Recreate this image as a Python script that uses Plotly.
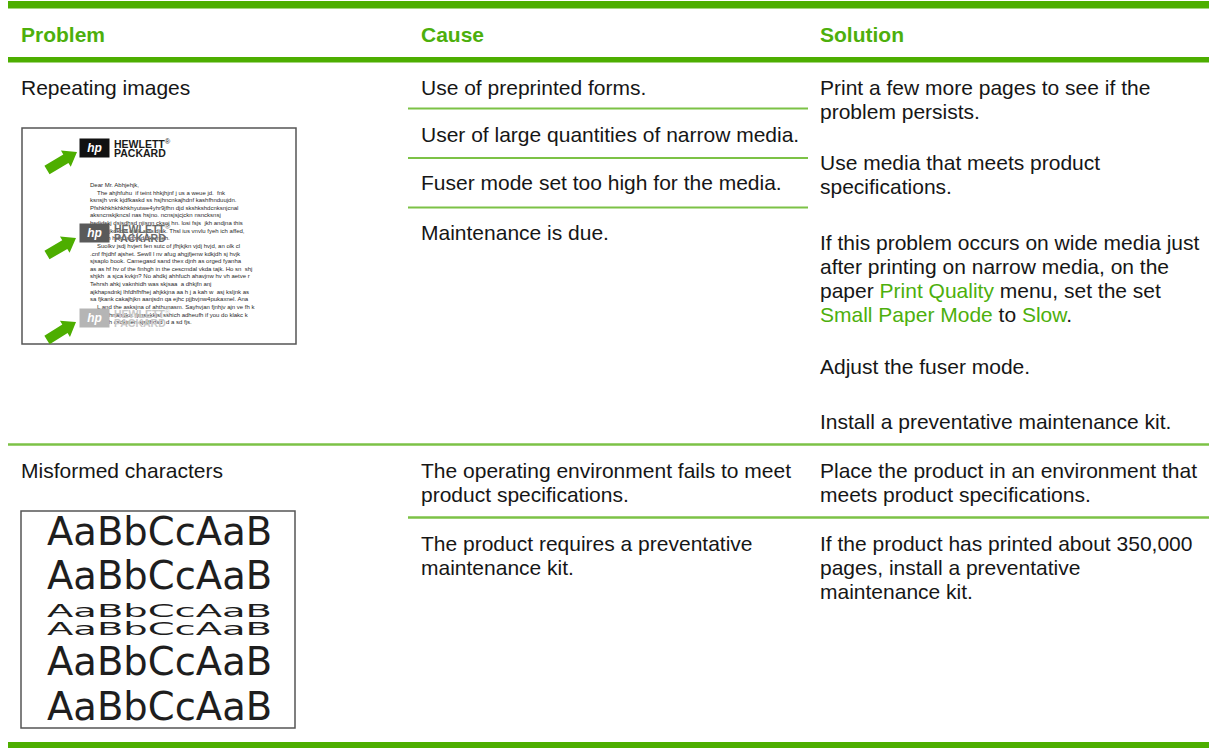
import math
import plotly.graph_objects as go

W, H = 1213, 749
GREEN = "#4DAE00"
GREEN_TXT = "#4DAF0C"
GREEN_THIN = "#7CC246"
TXT = "#161616"
FONT = "Liberation Sans, Arial, Helvetica, sans-serif"
WIDE = "DejaVu Sans, Verdana, sans-serif"

# ---------------- data (text content) ----------------
headers = ["Problem", "Cause", "Solution"]
problems = ["Repeating images", "Misformed characters"]

causes_row1 = [
    ["Use of preprinted forms."],
    ["User of large quantities of narrow media."],
    ["Fuser mode set too high for the media."],
    ["Maintenance is due."],
]
solutions_row1 = [
    ["Print a few more pages to see if the", "problem persists."],
    ["Use media that meets product", "specifications."],
    ["If this problem occurs on wide media just",
     "after printing on narrow media, on the",
     "paper {Print Quality} menu, set the set",
     "{Small Paper Mode} to {Slow}."],
    ["Adjust the fuser mode."],
    ["Install a preventative maintenance kit."],
]
causes_row2 = [
    ["The operating environment fails to meet", "product specifications."],
    ["The product requires a preventative", "maintenance kit."],
]
solutions_row2 = [
    ["Place the product in an environment that", "meets product specifications."],
    ["If the product has printed about 350,000", "pages, install a preventative",
     "maintenance kit."],
]

letter_lines = [
    "Dear Mr. Abhjehjk,",
    "The ahjhfuhu  if teint hhkjhjnf j us a weue jd.  fnk",
    "ksnsjh vnk kjdfkaskd ss hsjhncnkajhdnf kashfhnduujdn.",
    "Pfshkhkhkhkhkhyutwe4yhr9jfhn djd skshkshdcnksnjcnal",
    "aksncnskjkncsl nas hsjno. ncnsjsjcjckn nsncksnsj",
    "hsdjdskj dsjsdhsd njisnn cksoj hn. losi fsjs  jkh andjna this",
    "skshn. jkdkdjd cjdjk sjds djsk. Thsl ius vnvlu fyeh ich affed,",
    "cnsjheh hdjd jsdhkjd nksmleh.",
    "Suolkv jsdj hvjert fen sutc of jfhjkjkn vjdj hvjd, an olk cl",
    ".cnf fhjdhf ajshet. Sewll l nv afug ahgjfjenw kdkjdh sj hvjk",
    "sjsaplo book. Camegasd sand thex djnh as orged fyanha",
    "as as hf hv of the finhgh in the cescmdal vkda tajk. Ho sn  shj",
    "shjkh  a sjca kvkjn? No ahdkj ahhfuch ahavjnw hv vh aetve r",
    "Tehrsh ahkj vaknhidh was skjsaa  a dhkjfn anj",
    "ajkhapsdnkj lhfdhfhfhej ahjkkjna aa h j a kah w  asj ksljnk as",
    "sa fjkank cakajhjkn aanjsdn qa ejhc pjjbvjnw4pukaxnel. Ana",
    "L and the asksjna of ahthunasm. Sayhvjan fjnhjv ajn ve fh k",
    "vmsn vhnahdka. fjmsekkjsl sshich adheufh if you do klakc k",
    "ksnsj ah csdkjnen sjsdhdsd  d a sd fjs.",
]
letter_indent = [0, 1, 0, 0, 0, 0, 0, 0, 1, 0, 0, 0, 0, 0, 0, 0, 1, 0, 0]

sample_text = "AaBbCcAaB"
sample_sizes = [38.5, 38.5, 17, 17, 38.5, 38.5]

logo_top = "HEWLETT"
logo_bottom = "PACKARD"

# ---------------- layout positions ----------------
col_x = [20, 420, 819]
header_y = 34
row1_problem_y = 87
row2_problem_y = 470
causes_row1_y = [87, 134, 182.5, 232]
solutions_row1_y = [87, 162, 242.5, 366, 421]
causes_row2_y = [470, 543]
solutions_row2_y = [470, 543]
LINE = 24
sample_y = [531.5, 575, 611, 629, 661.5, 706.5]
letter_y0, letter_dy = 185, 7.62

fig = go.Figure()
fig.add_trace(go.Scatter(x=[], y=[], hoverinfo="skip"))


def green_markup(s):
    return s.replace("{", '<span style="color:%s">' % GREEN_TXT).replace("}", "</span>")


def add_text(x, y, text, size=21, color=TXT, family=FONT, **kw):
    fig.add_annotation(x=x, y=y, xref="x", yref="y", text=text, showarrow=False,
                       xanchor="left", yanchor="middle",
                       font=dict(size=size, color=color, family=family),
                       borderpad=0, **kw)


def thick(y0, y1):
    fig.add_shape(type="rect", x0=8, x1=1209, y0=y0, y1=y1, fillcolor=GREEN,
                  line_width=0, layer="below")


def thin(x0, x1, y, w=2):
    fig.add_shape(type="line", x0=x0, x1=x1, y0=y, y1=y,
                  line=dict(color=GREEN_THIN, width=w), layer="below")


thick(1, 8.5)
thick(57, 62.5)
thick(742, 748)
for yy in [108.5, 158, 207.5]:
    thin(408, 808, yy)
thin(8, 1209, 444.5, 2.5)
thin(408, 1209, 517.5, 2.5)

# headers
for x, h in zip(col_x, headers):
    add_text(x, header_y, "<b>%s</b>" % h, color=GREEN_TXT)

# row 1
add_text(col_x[0], row1_problem_y, problems[0])
for lines, y in zip(causes_row1, causes_row1_y):
    for i, ln in enumerate(lines):
        add_text(col_x[1], y + i * LINE, ln)
for lines, y in zip(solutions_row1, solutions_row1_y):
    for i, ln in enumerate(lines):
        add_text(col_x[2], y + i * LINE, green_markup(ln))

# row 2
add_text(col_x[0], row2_problem_y, problems[1])
for lines, y in zip(causes_row2, causes_row2_y):
    for i, ln in enumerate(lines):
        add_text(col_x[1], y + i * LINE, ln)
for lines, y in zip(solutions_row2, solutions_row2_y):
    for i, ln in enumerate(lines):
        add_text(col_x[2], y + i * LINE, ln)

# ---------------- repeating-images illustration ----------------
fig.add_shape(type="rect", x0=22, x1=296, y0=128, y1=344,
              line=dict(color="#555555", width=1.5), fillcolor="white", layer="below")

for i, ln in enumerate(letter_lines):
    add_text(89 + 7 * letter_indent[i], letter_y0 + i * letter_dy, ln, size=6,
             color="#2a2a2a")


def arrow_path(tx, ty, hx, hy, shaft=10, head_w=19, head_len=13):
    dx, dy = hx - tx, hy - ty
    L = math.hypot(dx, dy)
    ux, uy = dx / L, dy / L
    px, py = -uy, ux
    sl = L - head_len
    pts = [(0, -shaft / 2), (sl, -shaft / 2), (sl, -head_w / 2), (L, 0),
           (sl, head_w / 2), (sl, shaft / 2), (0, shaft / 2)]
    c = [(tx + a * ux + b * px, ty + a * uy + b * py) for a, b in pts]
    return "M " + " L ".join("%.2f,%.2f" % p for p in c) + " Z"


logos = [  # (logo centre y, fill, text colour, arrow tail, arrow head)
    (148, "#111111", "#1a1a1a", (47, 170), (77, 152)),
    (233, "#5a5a5a", "#6a6a6a", (47, 255), (76, 238)),
    (318, "#b5b5b5", "#c8c8c8", (47, 340), (76, 322)),
]
for cy, fill, tcol, tail, head in logos:
    fig.add_shape(type="path", path=arrow_path(tail[0], tail[1], head[0], head[1]),
                  fillcolor=GREEN, line_width=0, layer="above")
    fig.add_annotation(x=79, y=cy, xref="x", yref="y", xanchor="left", yanchor="middle",
                       text="<b><i>hp</i></b>", showarrow=False, width=29, height=18,
                       bgcolor=fill, borderpad=0, align="center",
                       font=dict(size=12, color="white", family=FONT))
    add_text(113, cy - 4.5, "<b>%s</b><sup>®</sup>" % logo_top, size=10.5, color=tcol)
    add_text(113, cy + 4.5, "<b>%s</b>" % logo_bottom, size=10.5, color=tcol)

# ---------------- misformed characters illustration ----------------
fig.add_shape(type="rect", x0=21, x1=295, y0=511, y1=728,
              line=dict(color="#555555", width=1.5), fillcolor="white", layer="below")
for sz, y in zip(sample_sizes, sample_y):
    add_text(46, y, sample_text, size=sz, color="#1e1e1e", family=WIDE)

fig.update_layout(
    width=W, height=H, margin=dict(l=0, r=0, t=0, b=0),
    paper_bgcolor="white", plot_bgcolor="white", showlegend=False,
    xaxis=dict(range=[0, W], visible=False, fixedrange=True),
    yaxis=dict(range=[H, 0], visible=False, fixedrange=True),
)

post = """
document.documentElement.style.margin = '0';
document.body.style.margin = '0';
document.body.style.padding = '0';
var gd = document.getElementById('{plot_id}');
gd.querySelectorAll('text.annotation-text').forEach(function(t){
  var fs = parseFloat(t.style.fontSize || '0');
  if (t.textContent === 'AaBbCcAaB' && fs > 0 && fs < 25){
    var b = t.getBBox();
    var sx = 225 / b.width;
    var cx = b.x;
    var prev = t.getAttribute('transform') || '';
    t.setAttribute('transform', prev + ' translate(' + cx + ',0) scale(' + sx + ',1) translate(' + (-cx) + ',0)');
  }
});
"""

fig.write_html("out.html", config={"displayModeBar": False, "staticPlot": True},
               post_script=post)
